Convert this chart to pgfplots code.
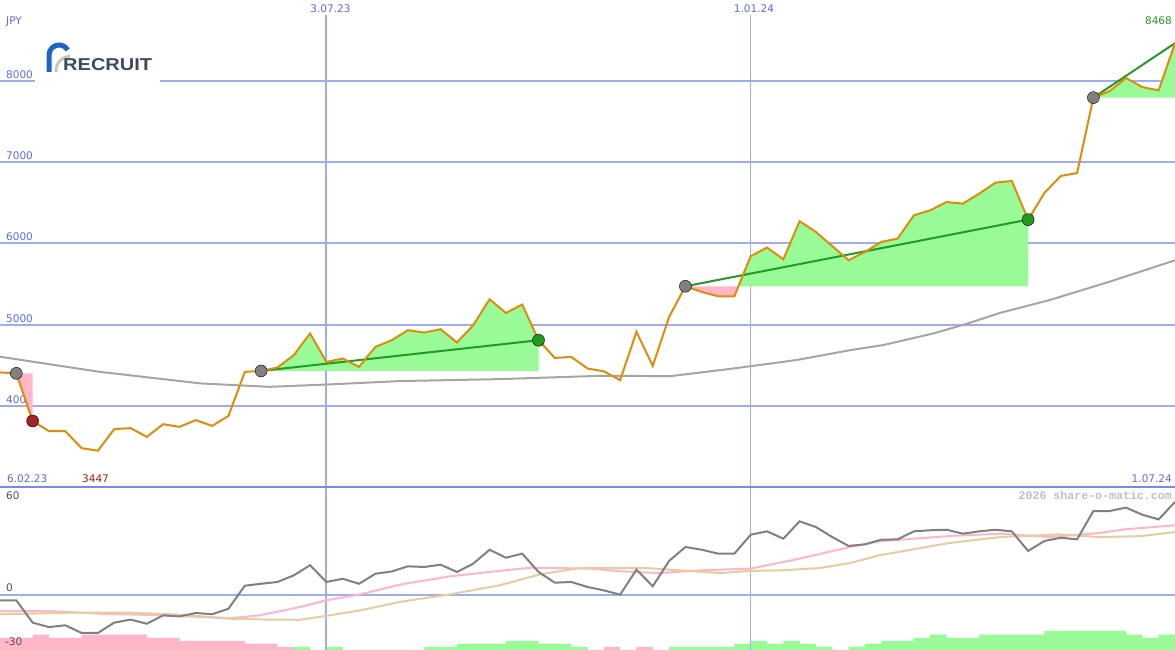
\documentclass[border=0pt]{standalone}
\usepackage{pgfplots}
\pgfplotsset{compat=1.18}
\usepackage{fontspec}
\usepackage{graphicx}
\setmainfont{DejaVu Sans}
\newfontfamily\monofont{Liberation Mono}
\newfontfamily\logofont{Liberation Sans}
\definecolor{gridblue}{RGB}{160,172,242}
\definecolor{sepblue}{RGB}{120,136,238}
\definecolor{lblblue}{RGB}{90,105,240}
\definecolor{lblgray}{RGB}{80,80,80}
\definecolor{pricec}{RGB}{222,140,10}
\definecolor{magray}{RGB}{165,165,165}
\definecolor{oscgray}{RGB}{128,128,128}
\definecolor{oscpink}{RGB}{255,182,200}
\definecolor{osctan}{RGB}{230,205,160}
\definecolor{fillgreen}{RGB}{152,251,152}
\definecolor{fillpink}{RGB}{255,182,200}
\definecolor{trendgreen}{RGB}{34,155,34}
\definecolor{dotgray}{RGB}{128,128,128}
\definecolor{dotred}{RGB}{165,35,35}
\definecolor{dotgreen}{RGB}{34,155,34}
\definecolor{minred}{RGB}{160,30,30}
\definecolor{logoblue}{RGB}{30,100,200}
\definecolor{logotext}{RGB}{60,75,90}
\begin{document}
\begin{tikzpicture}
\pgfplotsset{
  panel/.style={scale only axis, width=1175pt, xmin=0, xmax=72,
    axis line style={draw=none}, major tick length=0pt, tick style={draw=none},
    xtick={20}, xticklabels={}, yticklabels={},
    extra x ticks={46}, extra x tick labels={},
    extra x tick style={major grid style={gridblue, line width=1pt}},
    xmajorgrids, ymajorgrids, major grid style={gridblue, line width=2pt}}
}
% ---------------- upper panel: price ----------------
\begin{axis}[panel, at={(0pt,163pt)}, anchor=south west, height=487pt,
  ymin=3000, ymax=9000, ytick={4000,5000,6000,7000,8000}]
\node[anchor=base west, text=lblblue, font=\fontsize{10.5}{12}\selectfont, inner sep=0pt] at (axis cs:0.37,4025) {4000};
% trend fills
\addplot[draw=none, fill=fillpink] coordinates {(1,4400) (2,3813) (2,4400)} -- cycle;
\addplot[draw=none, fill=fillgreen] coordinates {
(16,4430) (17,4472) (18,4624) (19,4891) (20,4541) (21,4583) (22,4480) (23,4726)
(24,4808) (25,4932) (26,4903) (27,4944) (28,4780) (29,4993) (30,5313) (31,5144)
(32,5248) (33,4808) (33,4430)} -- cycle;
\addplot[draw=none, fill=fillpink] coordinates {(42,5473) (43,5403) (44,5350) (45,5350) (45.25,5473)} -- cycle;
\addplot[draw=none, fill=fillgreen] coordinates {
(45.25,5473) (46,5843) (47,5950) (48,5806) (49,6274) (50,6142) (51,5966) (52,5794)
(53,5896) (54,6019) (55,6060) (56,6347) (57,6409) (58,6511) (59,6491) (60,6614)
(61,6750) (62,6770) (63,6294) (63,5473)} -- cycle;
\addplot[draw=none, fill=fillgreen] coordinates {
(67,7797) (68,7878) (69,8038) (70,7927) (71,7886) (72,8468) (72,7797)} -- cycle;
% long moving average
\addplot[magray, line width=2pt] coordinates {
(0,4605) (6.1,4419) (12.3,4276) (16.5,4234) (20.2,4264) (24.5,4305) (30.6,4329)
(36.8,4370) (41.1,4366) (44.5,4449) (48,4542) (49,4571) (52.1,4686) (54.1,4748)
(57.2,4892) (59.3,5015) (61.3,5146) (64.3,5302) (68,5530) (72,5793)};
% trend lines
\addplot[trendgreen, line width=2pt] coordinates {(16,4430) (33,4808)};
\addplot[trendgreen, line width=2pt] coordinates {(42,5473) (63,6294)};
\addplot[trendgreen, line width=2pt] coordinates {(67,7797) (72,8468)};
% price
\addplot[pricec, line width=2pt] coordinates {
(0,4412) (1,4400) (2,3813) (3,3688) (4,3688) (5,3479) (6,3447) (7,3713) (8,3725)
(9,3618) (10,3774) (11,3741) (12,3824) (13,3753) (14,3876) (15,4418) (16,4430)
(17,4472) (18,4624) (19,4891) (20,4541) (21,4583) (22,4480) (23,4726) (24,4808)
(25,4932) (26,4903) (27,4944) (28,4780) (29,4993) (30,5313) (31,5144) (32,5248)
(33,4808) (34,4590) (35,4603) (36,4460) (37,4425) (38,4316) (39,4911) (40,4492)
(41,5095) (42,5473) (43,5403) (44,5350) (45,5350) (46,5843) (47,5950) (48,5806)
(49,6274) (50,6142) (51,5966) (52,5794) (53,5896) (54,6019) (55,6060) (56,6347)
(57,6409) (58,6511) (59,6491) (60,6614) (61,6750) (62,6770) (63,6294) (64,6623)
(65,6832) (66,6868) (67,7797) (68,7878) (69,8038) (70,7927) (71,7886) (72,8468)};
% markers
\addplot[only marks, mark=*, mark size=6pt, mark options={draw=none, fill=dotgray}]
  coordinates {(1,4400) (16,4430) (42,5473) (67,7797)};
\addplot[only marks, mark=*, mark size=6pt, mark options={draw=none, fill=dotred}]
  coordinates {(2,3813)};
\addplot[only marks, mark=*, mark size=6pt, mark options={draw=none, fill=dotgreen}]
  coordinates {(33,4808) (63,6294)};
\end{axis}
% ---------------- lower panel: histogram bars ----------------
\begin{axis}[at={(0pt,0pt)}, anchor=south west, scale only axis, width=1175pt, height=163pt,
  xmin=0, xmax=72, ymin=0, ymax=163, hide axis]
\addplot[ybar interval, fill=fillpink, draw=none] coordinates {
(0,12) (1,12) (2,15.3) (3,12) (4,12) (5,15.3) (6,15.3) (7,15.3) (8,15.3) (9,12)
(10,12) (11,9) (12,9) (13,9) (14,9) (15,6.3) (16,6.3) (17,3) (18,0) (19,0)
(20,0) (21,0) (22,0) (23,0) (24,0) (25,0) (26,0) (27,0) (28,0) (29,0)
(30,0) (31,0) (32,0) (33,0) (34,0) (35,0) (36,0) (37,3) (38,0) (39,3)
(40,0) (41,0) (42,0) (43,0) (44,0) (45,0) (46,0) (47,0) (48,0) (49,0)
(50,0) (51,0) (52,0) (53,0) (54,0) (55,0) (56,0) (57,0) (58,0) (59,0)
(60,0) (61,0) (62,0) (63,0) (64,0) (65,0) (66,0) (67,0) (68,0) (69,0)
(70,0) (71,0) (72,0)};
\addplot[ybar interval, fill=fillgreen, draw=none] coordinates {
(0,0) (1,0) (2,0) (3,0) (4,0) (5,0) (6,0) (7,0) (8,0) (9,0)
(10,0) (11,0) (12,0) (13,0) (14,0) (15,0) (16,0) (17,0) (18,3) (19,0)
(20,3) (21,0) (22,0) (23,0) (24,0) (25,0) (26,3) (27,3) (28,6.3) (29,6.3)
(30,6.3) (31,9) (32,9) (33,6.3) (34,6.3) (35,3) (36,0) (37,0) (38,0) (39,0)
(40,0) (41,3) (42,3) (43,3) (44,3) (45,6.3) (46,9) (47,6.3) (48,9) (49,6.3)
(50,3) (51,0) (52,3) (53,6.3) (54,9) (55,9) (56,12) (57,15.3) (58,12) (59,12)
(60,15.3) (61,15.3) (62,15.3) (63,15.3) (64,19) (65,19) (66,19) (67,19) (68,19) (69,15.3)
(70,12) (71,15.3) (72,0)};
\end{axis}
% ---------------- lower panel: oscillator ----------------
\begin{axis}[panel, at={(0pt,0pt)}, anchor=south west, height=163pt,
  ymin=-30.85, ymax=60.57, ytick={0}]
\addplot[oscpink, line width=2pt] coordinates {
(0,-9) (3.1,-9) (6.1,-10.5) (9.2,-11.2) (12.3,-12.3) (14.1,-13.1) (15.9,-11.4)
(17.2,-9) (18.4,-6.7) (20,-3) (22.1,0.4) (24.5,5.8) (27.6,10.5) (30.6,13.5)
(32.5,15.3) (36.2,14.8) (38,13.3) (40.4,12.3) (42.9,13.8) (46,14.8) (49,20.4)
(52.1,26.9) (53.9,30.1) (58.2,33.1) (61.3,34.4) (64.3,32.5) (67.4,34.8) (68.9,36.8) (72,39.1)};
\addplot[osctan, line width=2pt] coordinates {
(0,-10.8) (4.6,-9.9) (8,-9.9) (11,-11) (14.1,-13.3) (16.5,-13.8) (18.4,-13.9)
(20.2,-11.4) (22.1,-8.6) (24.5,-3.9) (27.6,0.4) (30.6,5.4) (33.1,11.6) (35.5,15.1)
(39.8,15) (41.7,13.8) (44.1,12.3) (46,13.5) (47.8,13.8) (50.2,15.1) (52.1,17.9)
(53.9,22.3) (58.2,29.2) (61.3,32.5) (64.9,34) (67.4,32.5) (69.9,33) (72,35.3)};
\addplot[oscgray, line width=2pt] coordinates {
(0,-3) (1,-3) (2,-15.5) (3,-18) (4,-17) (5,-21.3) (6,-21.3) (7,-15.5) (8,-13.8)
(9,-16.1) (10,-11.4) (11,-12) (12,-10.1) (13,-10.8) (14,-7.7) (15,5.2) (16,6.3)
(17,7.3) (18,11) (19,16.7) (20,7.3) (21,9.1) (22,6.3) (23,11.9) (24,13.2)
(25,16.1) (26,15.7) (27,17) (28,12.9) (29,17.6) (30,25.4) (31,20.9) (32,23.2)
(33,12.9) (34,6.9) (35,7.3) (36,4.5) (37,2.6) (38,0.2) (39,14.2) (40,4.9)
(41,19.1) (42,26.9) (43,25.4) (44,23.2) (45,23.2) (46,33.8) (47,35.7) (48,31.6)
(49,41.3) (50,38.1) (51,32.5) (52,27.5) (53,28.4) (54,31) (55,31.2) (56,35.7)
(57,36.3) (58,36.6) (59,34.4) (60,35.7) (61,36.6) (62,35.7) (63,24.7) (64,30.3)
(65,32.1) (66,31.2) (67,47.1) (68,47.1) (69,49) (70,45) (71,42.4) (72,52.2)};
\end{axis}
% ---------------- decorations in pixel coordinates ----------------
\begin{scope}[shift={(0pt,650pt)}, x=1pt, y=-1pt, font=\fontsize{10.5}{12}\selectfont]
\fill[white] (0,0) rectangle (1175,15.5);
\fill[white] (35,72) rectangle (160,90);
% logo
\draw[logoblue, line width=5pt] (49,72) -- (49,55) arc[start angle=180, end angle=330, radius=10];
\draw[gray!45, line width=3pt] (56,72) .. controls (56,63) and (60,58) .. (70,56);
\node[anchor=base west, inner sep=0pt, text=logotext] at (63,71)
  {\resizebox{89pt}{12pt}{\logofont\bfseries RECRUIT}};
% labels
\node[anchor=base west, inner sep=0pt, text=lblblue] at (6,25) {JPY};
\node[anchor=base, inner sep=0pt, text=lblblue] at (330.5,12.7) {3.07.23};
\node[anchor=base, inner sep=0pt, text=lblblue] at (754,12.7) {1.01.24};
\node[anchor=base west, inner sep=0pt, text=lblblue] at (6,79) {8000};
\node[anchor=base west, inner sep=0pt, text=lblblue] at (6,160) {7000};
\node[anchor=base west, inner sep=0pt, text=lblblue] at (6,241) {6000};
\node[anchor=base west, inner sep=0pt, text=lblblue] at (6,322.5) {5000};
\node[anchor=base east, inner sep=0pt, text=dotgreen] at (1172,25) {8468};
\node[anchor=base west, inner sep=0pt, text=lblblue] at (7,482.5) {6.02.23};
\node[anchor=base west, inner sep=0pt, text=minred] at (82,482.5) {3447};
\node[anchor=base east, inner sep=0pt, text=lblblue] at (1172,482.5) {1.07.24};
\node[anchor=base west, inner sep=0pt, text=lblgray] at (6,499.5) {60};
\node[anchor=base west, inner sep=0pt, text=lblgray] at (6,592) {0};
\node[anchor=base west, inner sep=0pt, text=lblgray] at (5,645.5) {-30};
\node[anchor=base east, inner sep=0pt, text=black!25, font=\monofont\bfseries\fontsize{11.6}{13}\selectfont] at (1172,500) {2026 share-o-matic.com};
\draw[sepblue, line width=2.5pt] (0,487) -- (1175,487);
\end{scope}
\pgfresetboundingbox
\useasboundingbox (0pt,0pt) rectangle (1175pt,650pt);
\end{tikzpicture}
\end{document}
